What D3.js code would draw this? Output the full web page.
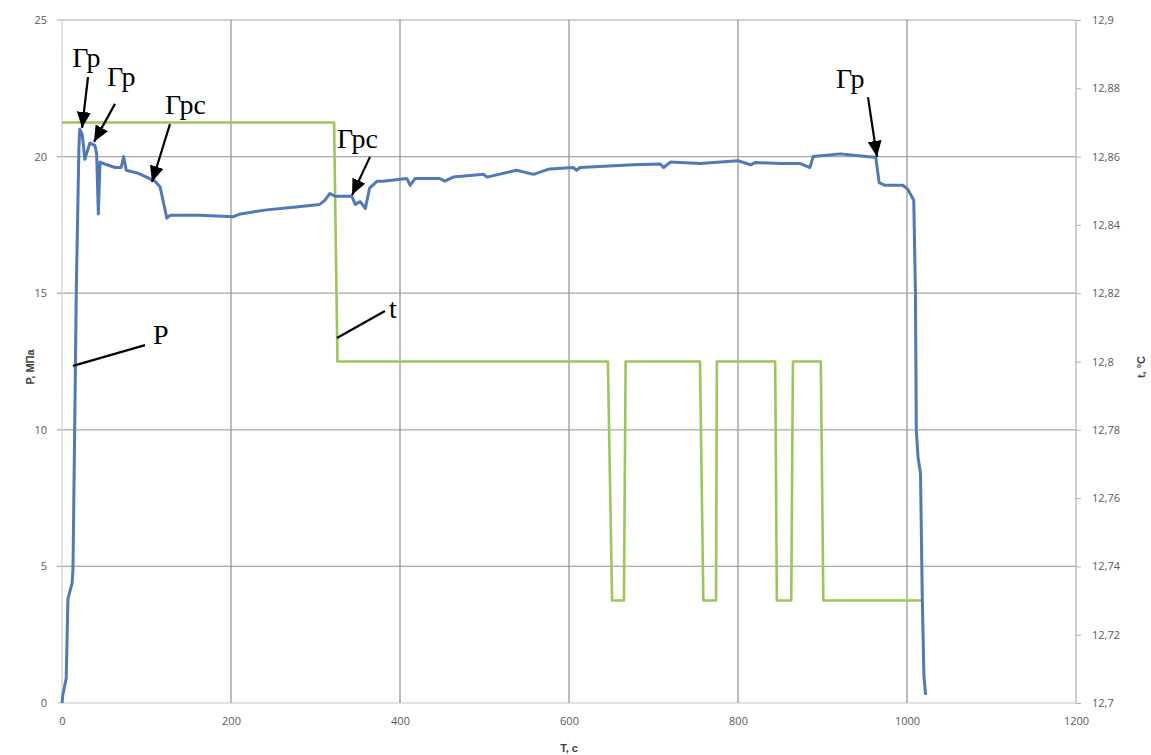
<!DOCTYPE html>
<html>
<head>
<meta charset="utf-8">
<script src="https://cdn.jsdelivr.net/npm/d3@7"></script>
<style>
body { margin: 0; background: #fff; }
svg { display: block; }
.tick text { font-family: "Open Sans", "Liberation Sans", sans-serif; font-size: 11px; fill: #595959; }
.note { font-family: "Liberation Serif", "DejaVu Serif", serif; font-size: 28px; fill: #000; }
.atitle { font-family: "Liberation Sans", sans-serif; font-size: 11px; font-weight: bold; fill: #404040; }
</style>
</head>
<body>
<svg width="1151" height="755"></svg>
<script>
var width = 1151;
var height = 755;

// pressure P, MPa vs time T, s
var pTime = [0, 1, 5, 7, 12, 13, 15, 17, 20, 21, 24, 27, 33, 39, 41, 43, 45, 53, 63, 70, 73, 76, 89, 100, 110, 116,
  122, 124, 128, 163, 203, 211, 242, 274, 305, 311, 317, 323, 343, 347, 353, 359, 364, 373, 380, 408, 412, 418,
  447, 453, 463, 499, 503, 538, 558, 577, 605, 609, 613, 676, 708, 712, 720, 755, 780, 800, 815, 820, 850, 873,
  885, 889, 921, 952, 963, 967, 974, 995, 1001, 1008, 1010, 1011, 1013, 1016, 1018, 1020, 1022];
var pValue = [0, 0.3, 0.9, 3.8, 4.4, 4.9, 10, 15.3, 20.3, 21.0, 20.8, 19.9, 20.5, 20.4, 20.1, 17.9, 19.8, 19.7, 19.6, 19.6, 20.0, 19.5, 19.4, 19.25, 19.1, 18.9,
  18.05, 17.75, 17.85, 17.85, 17.8, 17.9, 18.05, 18.15, 18.25, 18.4, 18.65, 18.55, 18.55, 18.25, 18.35, 18.1, 18.85, 19.1, 19.1, 19.2, 18.95, 19.2,
  19.2, 19.1, 19.25, 19.35, 19.25, 19.5, 19.35, 19.55, 19.6, 19.5, 19.6, 19.7, 19.73, 19.6, 19.8, 19.75, 19.8, 19.85, 19.7, 19.78, 19.75, 19.75,
  19.6, 20.0, 20.1, 20.0, 19.98, 19.05, 18.95, 18.95, 18.8, 18.4, 15, 10, 9, 8.4, 4, 1, 0.3];

// temperature t, °C vs time
var tTime = [0, 322, 326, 646, 651, 665, 667, 755, 759, 774, 775, 844, 846, 863, 865, 898, 901, 1019];
var tValue = [12.87, 12.87, 12.80, 12.80, 12.73, 12.73, 12.80, 12.80, 12.73, 12.73, 12.80, 12.80, 12.73, 12.73, 12.80, 12.80, 12.73, 12.73];

var xTicks = [0, 200, 400, 600, 800, 1000, 1200];
var pTicks = [0, 5, 10, 15, 20, 25];
var tTicks = [12.7, 12.72, 12.74, 12.76, 12.78, 12.8, 12.82, 12.84, 12.86, 12.88, 12.9];

// annotations in data coords (T, P)
var arrows = [
  [30.8, 22.91, 23.7, 21.05],
  [62.7, 21.93, 37.9, 20.54],
  [127.8, 21.19, 106.5, 19.07],
  [364.5, 19.99, 343.2, 18.59],
  [953.8, 22.18, 964.5, 19.99]
];
var leaders = [
  [13, 12.34, 98.2, 13.1],
  [325.4, 13.36, 382.2, 14.35]
];
var notes = [
  ["Гр", 12, 23.28],
  ["Гр", 53.3, 22.58],
  ["Грс", 122, 21.56],
  ["Грс", 325.5, 20.31],
  ["Гр", 916, 22.51],
  ["P", 107.7, 13.14],
  ["t", 387, 14.09]
];

var plotLeft = 62, plotRight = 1076, plotTop = 20, plotBottom = 703;

var x = d3.scaleLinear().domain([0, 1200]).range([plotLeft, plotRight]);
var yP = d3.scaleLinear().domain([0, 25]).range([plotBottom, plotTop]);
var yT = d3.scaleLinear().domain([12.7, 12.9]).range([plotBottom, plotTop]);

var svg = d3.select("svg");

// gridlines
svg.append("g")
  .selectAll("line")
  .data(pTicks)
  .join("line")
  .attr("x1", plotLeft - 5).attr("x2", plotRight)
  .attr("y1", d => yP(d)).attr("y2", d => yP(d))
  .attr("stroke", d => d == 0 ? "#c8c8c8" : "#a8a8a8")
  .attr("stroke-width", 1.2);

svg.append("g")
  .selectAll("line")
  .data(xTicks.slice(1, -1))
  .join("line")
  .attr("x1", d => x(d)).attr("x2", d => x(d))
  .attr("y1", plotTop).attr("y2", plotBottom)
  .attr("stroke", "#8f8f8f")
  .attr("stroke-width", 1.2);

// axes lines
svg.append("line").attr("x1", plotLeft).attr("x2", plotLeft).attr("y1", plotTop).attr("y2", plotBottom)
  .attr("stroke", "#d0d0d0").attr("stroke-width", 1.2);
svg.append("line").attr("x1", plotRight).attr("x2", plotRight).attr("y1", plotTop).attr("y2", plotBottom)
  .attr("stroke", "#b0b0b0").attr("stroke-width", 1.2);

var fmtT = d => String(+d.toFixed(2)).replace(".", ",");

var ax = svg.append("g").attr("transform", "translate(0," + plotBottom + ")")
  .call(d3.axisBottom(x).tickValues(xTicks).tickSize(0).tickPadding(14).tickFormat(d3.format("d")));
var ay = svg.append("g").attr("transform", "translate(" + (plotLeft - 5) + ",0)")
  .call(d3.axisLeft(yP).tickValues(pTicks).tickSize(0).tickPadding(10));
var ay2 = svg.append("g").attr("transform", "translate(" + plotRight + ",0)")
  .call(d3.axisRight(yT).tickValues(tTicks).tickSize(5).tickPadding(11).tickFormat(fmtT));
[ax, ay, ay2].forEach(function(a) {
  a.select(".domain").remove();
  a.selectAll(".tick line").attr("stroke", "#b0b0b0");
});

// axis titles
svg.append("text").attr("class", "atitle")
  .attr("transform", "translate(34," + 367 + ") rotate(-90)")
  .attr("text-anchor", "middle").text("P, МПа");
svg.append("text").attr("class", "atitle")
  .attr("transform", "translate(1145," + 367 + ") rotate(-90)")
  .attr("text-anchor", "middle").text("t, °C");
svg.append("text").attr("class", "atitle")
  .attr("x", x(600)).attr("y", 752)
  .attr("text-anchor", "middle").text("T, c");

// series
var lineT = d3.line().x(d => x(d[0])).y(d => yT(d[1]));
var lineP = d3.line().x(d => x(d[0])).y(d => yP(d[1]));

svg.append("path")
  .datum(d3.zip(tTime, tValue))
  .attr("d", lineT)
  .attr("fill", "none")
  .attr("stroke", "#9cc55c")
  .attr("stroke-width", 2.6)
  .attr("stroke-linejoin", "round");

svg.append("path")
  .datum(d3.zip(pTime, pValue))
  .attr("d", lineP)
  .attr("fill", "none")
  .attr("stroke", "#5179b5")
  .attr("stroke-width", 3)
  .attr("stroke-linejoin", "round");

// annotations
svg.append("defs").append("marker")
  .attr("id", "arr")
  .attr("viewBox", "0 0 16 14")
  .attr("refX", 16).attr("refY", 7)
  .attr("markerWidth", 16).attr("markerHeight", 14)
  .attr("markerUnits", "userSpaceOnUse")
  .attr("orient", "auto")
  .append("path").attr("d", "M0,0 L16,7 L0,14 Z").attr("fill", "#000");

svg.append("g").selectAll("line")
  .data(arrows)
  .join("line")
  .attr("x1", d => x(d[0])).attr("y1", d => yP(d[1]))
  .attr("x2", d => x(d[2])).attr("y2", d => yP(d[3]))
  .attr("stroke", "#000").attr("stroke-width", 2.2)
  .attr("marker-end", "url(#arr)");

svg.append("g").selectAll("line")
  .data(leaders)
  .join("line")
  .attr("x1", d => x(d[0])).attr("y1", d => yP(d[1]))
  .attr("x2", d => x(d[2])).attr("y2", d => yP(d[3]))
  .attr("stroke", "#000").attr("stroke-width", 2.2);

svg.append("g").selectAll("text")
  .data(notes)
  .join("text")
  .attr("class", "note")
  .attr("x", d => x(d[1])).attr("y", d => yP(d[2]))
  .text(d => d[0]);
</script>
</body>
</html>
